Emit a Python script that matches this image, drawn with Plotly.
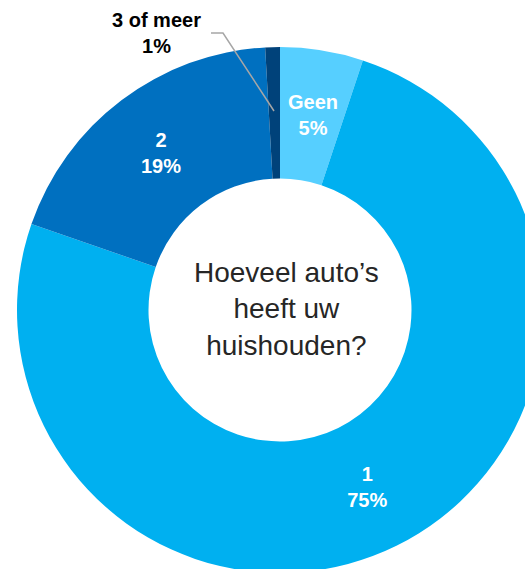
import plotly.graph_objects as go

labels = ["Geen", "1", "2", "3 of meer"]
values = [5.1, 75.2, 18.8, 0.9]
percent_text = ["5%", "75%", "19%", "1%"]
colors = ["#56CFFF", "#00B0F0", "#0070C0", "#00427A"]
center_title = "Hoeveel auto’s<br>heeft uw<br>huishouden?"

W, H = 560, 620
cx, cy, R = 280, 310, 263

def px(x):
    return x / W

def py(y):
    return (H - y) / H

fig = go.Figure(go.Pie(
    labels=labels,
    values=values,
    hole=0.5,
    sort=False,
    direction="clockwise",
    rotation=0,
    marker=dict(colors=colors, line=dict(width=0)),
    texttemplate=["", "%{label}<br>%{percent:.0%}", "%{label}<br>%{percent:.0%}", ""],
    textposition=["none", "inside", "inside", "none"],
    insidetextorientation="horizontal",
    textfont=dict(family="Liberation Sans, Arial, sans-serif", size=20, color="white", weight="bold"),
    domain=dict(x=[px(cx - R), px(cx + R)], y=[py(cy + R), py(cy - R)]),
    showlegend=False,
))

fig.add_annotation(
    x=px(cx + 6), y=py(cy - 1), xref="paper", yref="paper",
    xanchor="center", yanchor="middle",
    text=center_title, showarrow=False,
    font=dict(family="Liberation Sans, Arial, sans-serif", size=28, color="#262626"),
    align="center",
)

fig.add_annotation(
    x=px(313), y=py(115), xref="paper", yref="paper",
    xanchor="center", yanchor="middle",
    text=f"{labels[0]}<br>{percent_text[0]}", showarrow=False,
    font=dict(family="Liberation Sans, Arial, sans-serif", size=20, color="white", weight="bold"),
    align="center",
)

fig.add_annotation(
    x=px(156), y=py(33), xref="paper", yref="paper",
    xanchor="center", yanchor="middle",
    text=f"{labels[3]}<br>{percent_text[3]}", showarrow=False,
    font=dict(family="Liberation Sans, Arial, sans-serif", size=20, color="black", weight="bold"),
    align="center",
)

fig.add_shape(
    type="path", xref="paper", yref="paper",
    path=f"M {px(211)} {py(33)} L {px(223)} {py(33)} L {px(274)} {py(111)}",
    line=dict(color="#A6A6A6", width=1.5),
)

fig.update_layout(
    width=W, height=H,
    margin=dict(l=0, r=0, t=0, b=0),
    paper_bgcolor="white",
    plot_bgcolor="white",
)

fig.write_html(
    "out.html",
    post_script="document.body.style.margin='0';document.body.style.overflow='hidden';",
)
